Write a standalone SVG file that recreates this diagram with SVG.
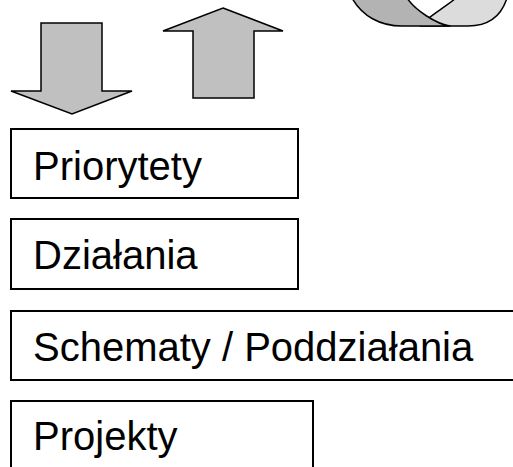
<svg xmlns="http://www.w3.org/2000/svg" width="513" height="467" viewBox="0 0 513 467">
<style>
.box{fill:#fff;stroke:#000;stroke-width:2}
.lbl{font-family:"Liberation Sans",Arial,sans-serif;font-size:40px;fill:#000}
.arrow{fill:#c0c0c0;stroke:#000;stroke-width:1.5;stroke-linejoin:miter}
.rib{stroke:#000;stroke-width:1.5;stroke-linejoin:round}
</style>
<rect width="513" height="467" fill="#fff"/>
<g id="cycle">
<path class="rib" fill="#dcdcdc" d="M507,-2 C502,14 490,26 468,26 L420,26 C426,18 444,8 456,-2 Z"/>
<path class="rib" fill="#b3b3b3" d="M352,-2 C362,16 380,26 402,26 L450,26 C436,24 415,10 407,-2 Z"/>
</g>
<g id="connectors">
<path id="arrow-down" class="arrow" d="M41,23 L102,23 L102,91 L132,91 L72,114 L11,91 L41,91 Z"/>
<path id="arrow-up" class="arrow" d="M223,8 L283,31 L254,31 L254,98 L193,98 L193,31 L163,31 Z"/>
</g>
<g id="priorytety">
<rect class="box" x="11" y="129" width="287" height="69"/>
<text class="lbl" x="33" y="180">Priorytety</text>
</g>
<g id="dzialania">
<rect class="box" x="11" y="219" width="287" height="70"/>
<text class="lbl" x="33" y="269">Działania</text>
</g>
<g id="schematy">
<rect class="box" x="11" y="311" width="520" height="69"/>
<text class="lbl" x="33" y="361">Schematy / Poddziałania</text>
</g>
<g id="projekty">
<rect class="box" x="11" y="401" width="302" height="80"/>
<text class="lbl" x="33" y="450">Projekty</text>
</g>
</svg>
